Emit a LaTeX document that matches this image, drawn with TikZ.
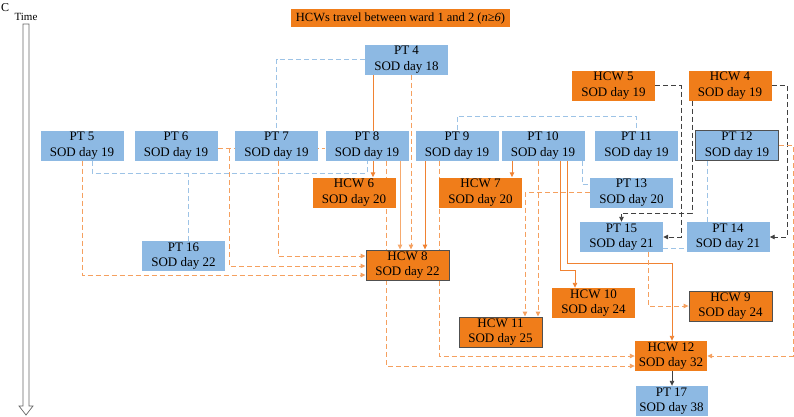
\documentclass[tikz,border=0pt]{standalone}
\usepackage{fontspec}
\setmainfont{Liberation Serif}
\usetikzlibrary{arrows.meta,backgrounds}
\definecolor{ptblue}{RGB}{141,185,227}
\definecolor{hcworange}{RGB}{240,125,26}
\definecolor{bline}{RGB}{157,195,230}
\definecolor{oline}{RGB}{240,130,50}
\definecolor{olight}{RGB}{246,170,110}
\definecolor{odline}{RGB}{245,160,95}
\definecolor{kline}{RGB}{64,64,64}
\definecolor{edgegray}{RGB}{80,80,80}
\begin{document}
\begin{tikzpicture}[x=1pt,y=-1pt,
  box/.style={minimum width=83pt,minimum height=30pt,inner sep=0pt,align=center,font=\fontsize{13}{15.5}\selectfont},
  pt/.style={box,fill=ptblue},
  hcw/.style={box,fill=hcworange},
  framed/.style={draw=edgegray,line width=0.9pt},
  tip/.style={-{Triangle[length=5pt,width=4.5pt]}},
  bdash/.style={draw=bline,line width=0.9pt,dash pattern=on 5pt off 3pt},
  odash/.style={draw=odline,line width=0.9pt,dash pattern=on 5pt off 3pt},
  osolid/.style={draw=oline,line width=0.9pt},
  olsolid/.style={draw=olight,line width=0.9pt},
  kdash/.style={draw=kline,line width=0.9pt,dash pattern=on 5pt off 3pt},
  ksolid/.style={draw=kline,line width=0.9pt},
]
\useasboundingbox (0,0) rectangle (794,416);

% labels and time arrow
\node[anchor=west,inner sep=0pt,font=\fontsize{12}{12}\selectfont] (clabel) at (1,8) {C};
\node[inner sep=0pt,font=\fontsize{11}{11}\selectfont] (timelabel) at (26,17) {Time};
\draw[draw=gray!80!black,line width=0.7pt,fill=white] (23,24) -- (29,24) -- (29,406) -- (33,406) -- (26,415) -- (19,406) -- (23,406) -- cycle;

% title
\node[fill=hcworange,minimum width=219pt,minimum height=18pt,inner sep=0pt,font=\fontsize{12.5}{15}\selectfont] (title) at (400.5,18) {HCWs travel between ward 1 and 2 (\textit{n≥6})};

% nodes
\node[pt] (pt4) at (406.5,59.5) {PT 4\\SOD day 18};
\node[hcw] (hcw5) at (613.5,85.5) {HCW 5\\SOD day 19};
\node[hcw] (hcw4) at (730,85.5) {HCW 4\\SOD day 19};
\node[pt] (pt5) at (82,145.5) {PT 5\\SOD day 19};
\node[pt] (pt6) at (176,145.5) {PT 6\\SOD day 19};
\node[pt] (pt7) at (276.5,145.5) {PT 7\\SOD day 19};
\node[pt] (pt8) at (367,145.5) {PT 8\\SOD day 19};
\node[pt] (pt9) at (457,145.5) {PT 9\\SOD day 19};
\node[pt] (pt10) at (543,145.5) {PT 10\\SOD day 19};
\node[pt] (pt11) at (636.5,145.5) {PT 11\\SOD day 19};
\node[pt,framed] (pt12) at (737,145.5) {PT 12\\SOD day 19};
\node[hcw] (hcw6) at (354,192.5) {HCW 6\\SOD day 20};
\node[hcw] (hcw7) at (480.5,192.5) {HCW 7\\SOD day 20};
\node[pt] (pt13) at (631.5,192.5) {PT 13\\SOD day 20};
\node[pt] (pt15) at (621.5,237) {PT 15\\SOD day 21};
\node[pt] (pt14) at (728,237) {PT 14\\SOD day 21};
\node[pt] (pt16) at (183.5,256) {PT 16\\SOD day 22};
\node[hcw,framed] (hcw8) at (407.5,265) {HCW 8\\SOD day 22};
\node[hcw] (hcw10) at (593.5,303) {HCW 10\\SOD day 24};
\node[hcw,framed] (hcw9) at (730.5,306) {HCW 9\\SOD day 24};
\node[hcw,framed] (hcw11) at (500.5,332) {HCW 11\\SOD day 25};
\node[hcw,minimum width=72pt] (hcw12) at (671,356) {HCW 12\\SOD day 32};
\node[pt,minimum width=72pt] (pt17) at (671.5,401) {PT 17\\SOD day 38};

\coordinate (j16) at (188,173);

\begin{pgfonlayer}{background}
% blue dashed links
\draw[bdash] (pt4.west) -| (pt7.north);
\draw[bdash] (pt9.north) -- ++(0,-14) -| (pt11.north);
\draw[bdash] (pt5.south -| 92,0) -- (92,173) -| (pt8.south -| 367,0);
\draw[bdash] (pt16.north -| j16) -- (j16);
\draw[bdash] (pt10.south -| 582,0) -- (582,184) -- (pt13.west |- 0,184);
\draw[bdash] (pt12.south -| 707,0) -- (pt14.north -| 707,0);
\draw[bdash] (pt15.east |- 0,248) -- (pt14.west |- 0,248);

% black dashed links
\draw[kdash,tip] (hcw5.east) -| (681,237) -- (pt15.east);
\draw[kdash,tip] (hcw4.south -| 692,0) -- (692,213) -| (pt15.north);
\draw[kdash,tip] (hcw4.east) -| (787,237) -- (pt14.east);
\draw[ksolid,tip] (hcw12.south -| 672,0) -- (pt17.north -| 672,0);

% orange solid links
\draw[osolid,tip] (pt4.south -| 373,0) -- (hcw6.north -| 373,0);
\draw[olsolid,tip] (pt8.south -| 400,0) -- (hcw8.north -| 400,0);
\draw[osolid,tip] (pt9.south -| 425,0) -- (hcw8.north -| 425,0);
\draw[osolid,tip] (pt10.south -| 512,0) -- (hcw7.north -| 512,0);
\draw[osolid,tip] (pt10.south -| 560,0) |- (575,270) -- (hcw10.north -| 575,0);
\draw[osolid,tip] (pt10.south -| 567,0) |- (672,263) -- (hcw12.north -| 672,0);

% orange dashed links
\draw[odash,tip] (pt4.south -| 411,0) -- (hcw8.north -| 411,0);
\draw[odash] (pt8.south -| 386,0) -- (hcw8.north -| 386,0);
\draw[odash,tip] (pt9.south -| 439,0) |- (hcw12.west);
\draw[odash,tip] (hcw8.south -| 386,0) |- (hcw12.west |- 0,366);
\draw[odash,tip] (pt10.south -| 538,0) -- (hcw11.north -| 538,0);
\draw[odash,tip] (pt13.west) -| (hcw11.north -| 525,0);
\draw[odash,tip] (pt15.south -| 648,0) |- (hcw9.west);
\draw[odash,tip] (pt12.east) -| (793,356) -- (hcw12.east);
\draw[odash,tip] (pt5.south) |- (hcw8.west |- 0,275);
\draw[odash] (pt6.east |- 0,148) -- (pt8.west |- 0,148);
\draw[odash,tip] (229,148) |- (hcw8.west |- 0,266);
\draw[odash,tip] (pt7.south -| 278,0) |- (hcw8.west |- 0,256);
\end{pgfonlayer}
\end{tikzpicture}
\end{document}
